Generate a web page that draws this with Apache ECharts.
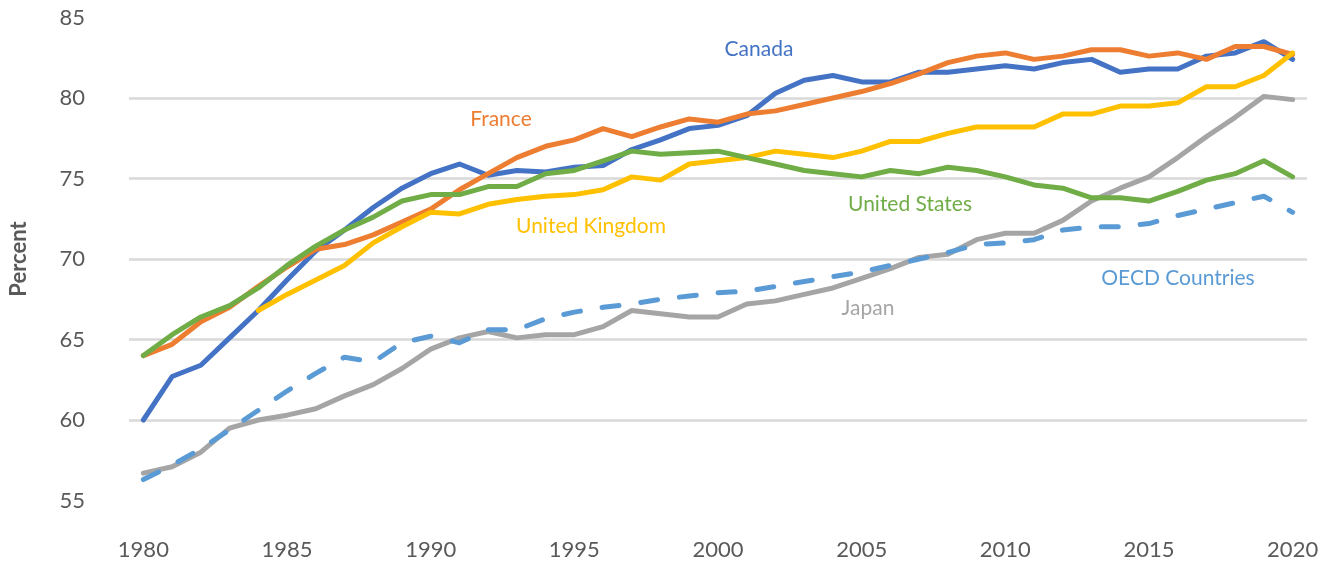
<!DOCTYPE html>
<html>
<head>
<meta charset="utf-8">
<script src="https://cdn.jsdelivr.net/npm/echarts@6/dist/echarts.min.js"></script>
<style>
  html, body { margin: 0; padding: 0; background: #fff; }
  #chart { width: 1330px; height: 563px; }
</style>
</head>
<body>
<div id="chart"></div>
<script>
var years = [];
for (var y = 1980; y <= 2020; y++) years.push(String(y));

var canada = [60.0, 62.7, 63.4, 65.1, 66.8, 68.7, 70.5, 71.8, 73.2, 74.4,
  75.3, 75.9, 75.2, 75.5, 75.4, 75.7, 75.8, 76.8, 77.4, 78.1,
  78.3, 78.9, 80.3, 81.1, 81.4, 81.0, 81.0, 81.6, 81.6, 81.8,
  82.0, 81.8, 82.2, 82.4, 81.6, 81.8, 81.8, 82.6, 82.8, 83.5, 82.4];
var france = [64.0, 64.7, 66.1, 67.0, 68.3, 69.5, 70.6, 70.9, 71.5, 72.3,
  73.1, 74.3, 75.3, 76.3, 77.0, 77.4, 78.1, 77.6, 78.2, 78.7,
  78.5, 79.0, 79.2, 79.6, 80.0, 80.4, 80.9, 81.5, 82.2, 82.6,
  82.8, 82.4, 82.6, 83.0, 83.0, 82.6, 82.8, 82.4, 83.2, 83.2, 82.7];
var japan = [56.7, 57.1, 58.0, 59.5, 60.0, 60.3, 60.7, 61.5, 62.2, 63.2,
  64.4, 65.1, 65.5, 65.1, 65.3, 65.3, 65.8, 66.8, 66.6, 66.4,
  66.4, 67.2, 67.4, 67.8, 68.2, 68.8, 69.4, 70.1, 70.3, 71.2,
  71.6, 71.6, 72.4, 73.6, 74.4, 75.1, 76.3, 77.6, 78.8, 80.1, 79.9];
var uk = [null, null, null, null, 66.8, 67.8, 68.7, 69.6, 71.0, 72.0,
  72.9, 72.8, 73.4, 73.7, 73.9, 74.0, 74.3, 75.1, 74.9, 75.9,
  76.1, 76.3, 76.7, 76.5, 76.3, 76.7, 77.3, 77.3, 77.8, 78.2,
  78.2, 78.2, 79.0, 79.0, 79.5, 79.5, 79.7, 80.7, 80.7, 81.4, 82.8];
var us = [64.0, 65.3, 66.4, 67.1, 68.2, 69.6, 70.8, 71.8, 72.6, 73.6,
  74.0, 74.0, 74.5, 74.5, 75.3, 75.5, 76.1, 76.7, 76.5, 76.6,
  76.7, 76.3, 75.9, 75.5, 75.3, 75.1, 75.5, 75.3, 75.7, 75.5,
  75.1, 74.6, 74.4, 73.8, 73.8, 73.6, 74.2, 74.9, 75.3, 76.1, 75.1];
var oecd = [56.3, 57.2, 58.2, 59.4, 60.6, 61.8, 62.9, 63.9, 63.6, 64.8,
  65.2, 64.8, 65.6, 65.6, 66.3, 66.7, 67.0, 67.2, 67.5, 67.7,
  67.9, 68.0, 68.3, 68.6, 68.9, 69.2, 69.6, 70.0, 70.4, 70.9,
  71.0, 71.2, 71.8, 72.0, 72.0, 72.2, 72.7, 73.1, 73.5, 73.9, 72.9];

var font = 'Lato, "Open Sans", sans-serif';

function line(name, data, color, dashed) {
  return {
    name: name,
    type: 'line',
    data: data,
    symbol: 'none',
    smooth: false,
    connectNulls: false,
    lineStyle: {
      color: color,
      width: 5,
      type: dashed ? [17, 22] : 'solid',
      cap: 'round',
      join: 'round'
    }
  };
}

// direct labels next to the lines
var labels = [
  { text: 'Canada', x: 759, y: 49, color: '#4472C4' },
  { text: 'France', x: 501, y: 119, color: '#ED7D31' },
  { text: 'United Kingdom', x: 591, y: 226, color: '#FFC000' },
  { text: 'United States', x: 910, y: 204, color: '#70AD47' },
  { text: 'OECD Countries', x: 1178, y: 278, color: '#5B9BD5' },
  { text: 'Japan', x: 868, y: 308, color: '#A5A5A5' }
];

var option = {
  backgroundColor: '#fff',
  animation: false,
  grid: { left: 127, right: 23, top: 17.5, bottom: 62.5 },
  xAxis: {
    type: 'category',
    data: years,
    boundaryGap: true,
    axisLine: { show: false },
    axisTick: { show: false },
    axisLabel: {
      interval: 4,
      color: '#595959',
      fontSize: 22,
      fontFamily: font,
      margin: 38
    },
    splitLine: { show: false }
  },
  yAxis: {
    type: 'value',
    min: 55,
    max: 85,
    interval: 5,
    name: 'Percent',
    nameLocation: 'middle',
    nameRotate: 90,
    nameGap: 99,
    nameTextStyle: { color: '#595959', fontSize: 22, fontWeight: 'bold', fontFamily: font },
    axisLine: { show: false },
    axisTick: { show: false },
    axisLabel: { color: '#595959', fontSize: 22, fontFamily: font, margin: 44 },
    splitLine: {
      show: true,
      showMinLine: false,
      showMaxLine: false,
      lineStyle: { color: '#D9D9D9', width: 2.5 }
    }
  },
  graphic: labels.map(function (l) {
    return {
      type: 'text',
      x: l.x,
      y: l.y,
      style: {
        text: l.text,
        fill: l.color,
        font: '21px ' + font,
        textAlign: 'center',
        textVerticalAlign: 'middle'
      }
    };
  }),
  series: [
    line('Canada', canada, '#4472C4'),
    line('France', france, '#ED7D31'),
    line('Japan', japan, '#A5A5A5'),
    line('United Kingdom', uk, '#FFC000'),
    line('United States', us, '#70AD47'),
    line('OECD Countries', oecd, '#5B9BD5', true)
  ]
};

var myChart = echarts.init(document.getElementById('chart'));
myChart.setOption(option);
</script>
</body>
</html>
